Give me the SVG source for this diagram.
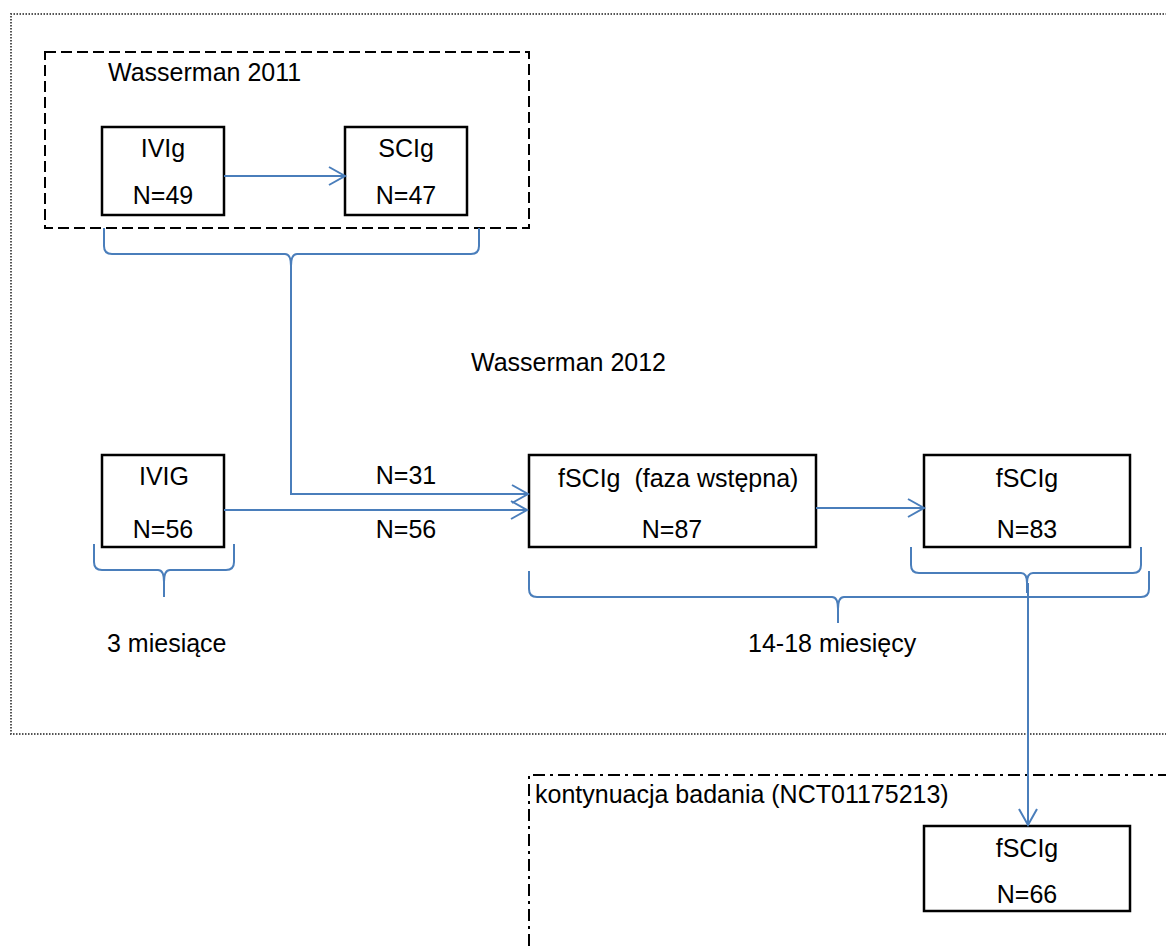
<svg xmlns="http://www.w3.org/2000/svg" width="1166" height="946" viewBox="0 0 1166 946">
<style>
text{font-family:"Liberation Sans",Arial,sans-serif;font-size:25px;fill:#000}
.c{text-anchor:middle}
.box{fill:#fff;stroke:#000;stroke-width:2.5}
.blue{fill:none;stroke:#4a7ebb;stroke-width:2}
.frame{fill:none;stroke:#555;stroke-width:2;stroke-dasharray:1.5 1.5}
.dash{fill:none;stroke:#000;stroke-width:2;stroke-dasharray:11 5}
.dashdot{fill:none;stroke:#000;stroke-width:2;stroke-dasharray:12 5 3 5}
</style>
<defs>
<marker id="arr" viewBox="0 0 16 18" refX="16" refY="9" markerWidth="16" markerHeight="18" markerUnits="userSpaceOnUse" orient="auto" overflow="visible">
<path d="M0,0 L16,9 L0,18" fill="none" stroke="#4a7ebb" stroke-width="2"/>
</marker>
</defs>
<rect width="1166" height="946" fill="#fff"/>
<g id="frames">
<path class="frame" d="M1170,14 H11 V734 H1170"/>
<rect id="wasserman2011" class="dash" x="45" y="52" width="484" height="176"/>
<path class="dashdot" d="M1170,775 H529 V950"/>
</g>
<g id="labels">
<text x="108" y="81">Wasserman 2011</text>
<text x="471" y="371">Wasserman 2012</text>
<text x="107" y="652">3 miesiące</text>
<text x="748" y="652">14-18 miesięcy</text>
<text x="535" y="803">kontynuacja badania (NCT01175213)</text>
<text class="c" x="406" y="484">N=31</text>
<text class="c" x="406" y="538">N=56</text>
</g>
<g id="node-ivig2011">
<rect class="box" x="102" y="127" width="122" height="88"/>
<text class="c" x="163" y="157">IVIg</text>
<text class="c" x="163" y="204">N=49</text>
</g>
<g id="node-scig2011">
<rect class="box" x="345" y="127" width="122" height="88"/>
<text class="c" x="406" y="157">SCIg</text>
<text class="c" x="406" y="204">N=47</text>
</g>
<g id="node-ivig">
<rect class="box" x="102" y="455" width="122" height="92"/>
<text class="c" x="164" y="485">IVIG</text>
<text class="c" x="163" y="538">N=56</text>
</g>
<g id="node-fscig-initial">
<rect class="box" x="529" y="455" width="287" height="92"/>
<text x="558" y="487" xml:space="preserve">fSCIg  (faza wstępna)</text>
<text class="c" x="672" y="538">N=87</text>
</g>
<g id="node-fscig">
<rect class="box" x="924" y="455" width="206" height="92"/>
<text class="c" x="1027" y="487">fSCIg</text>
<text class="c" x="1027" y="538">N=83</text>
</g>
<g id="node-fscig-ext">
<rect class="box" x="924" y="826" width="206" height="85"/>
<text class="c" x="1027" y="857">fSCIg</text>
<text class="c" x="1027" y="903">N=66</text>
</g>
<g id="braces">
<path class="blue" d="M104,228 V246 Q104,254 112,254 H285 Q291,254 291,266 V280 M479,228 V246 Q479,254 471,254 H297 Q291,254 291,266"/>
<path class="blue" d="M94,544 V562 Q94,570 102,570 H158 Q164,570 164,582 V597 M234,544 V562 Q234,570 226,570 H170 Q164,570 164,582"/>
<path class="blue" d="M911,547 V565 Q911,573 919,573 H1021 Q1027,573 1027,583 V593 M1141,547 V565 Q1141,573 1133,573 H1033 Q1027,573 1027,583"/>
<path class="blue" d="M529,571 V589 Q529,597 537,597 H832 Q838,597 838,609 V623 M1149,571 V589 Q1149,597 1141,597 H844 Q838,597 838,609"/>
</g>
<g id="connectors">
<path class="blue" d="M224,176 H345" marker-end="url(#arr)"/>
<path class="blue" d="M291,266 V494 H528" marker-end="url(#arr)"/>
<path class="blue" d="M224,510 H527" marker-end="url(#arr)"/>
<path class="blue" d="M816,508 H924" marker-end="url(#arr)"/>
<path class="blue" d="M1028,583 V825" marker-end="url(#arr)"/>
</g>
</svg>
